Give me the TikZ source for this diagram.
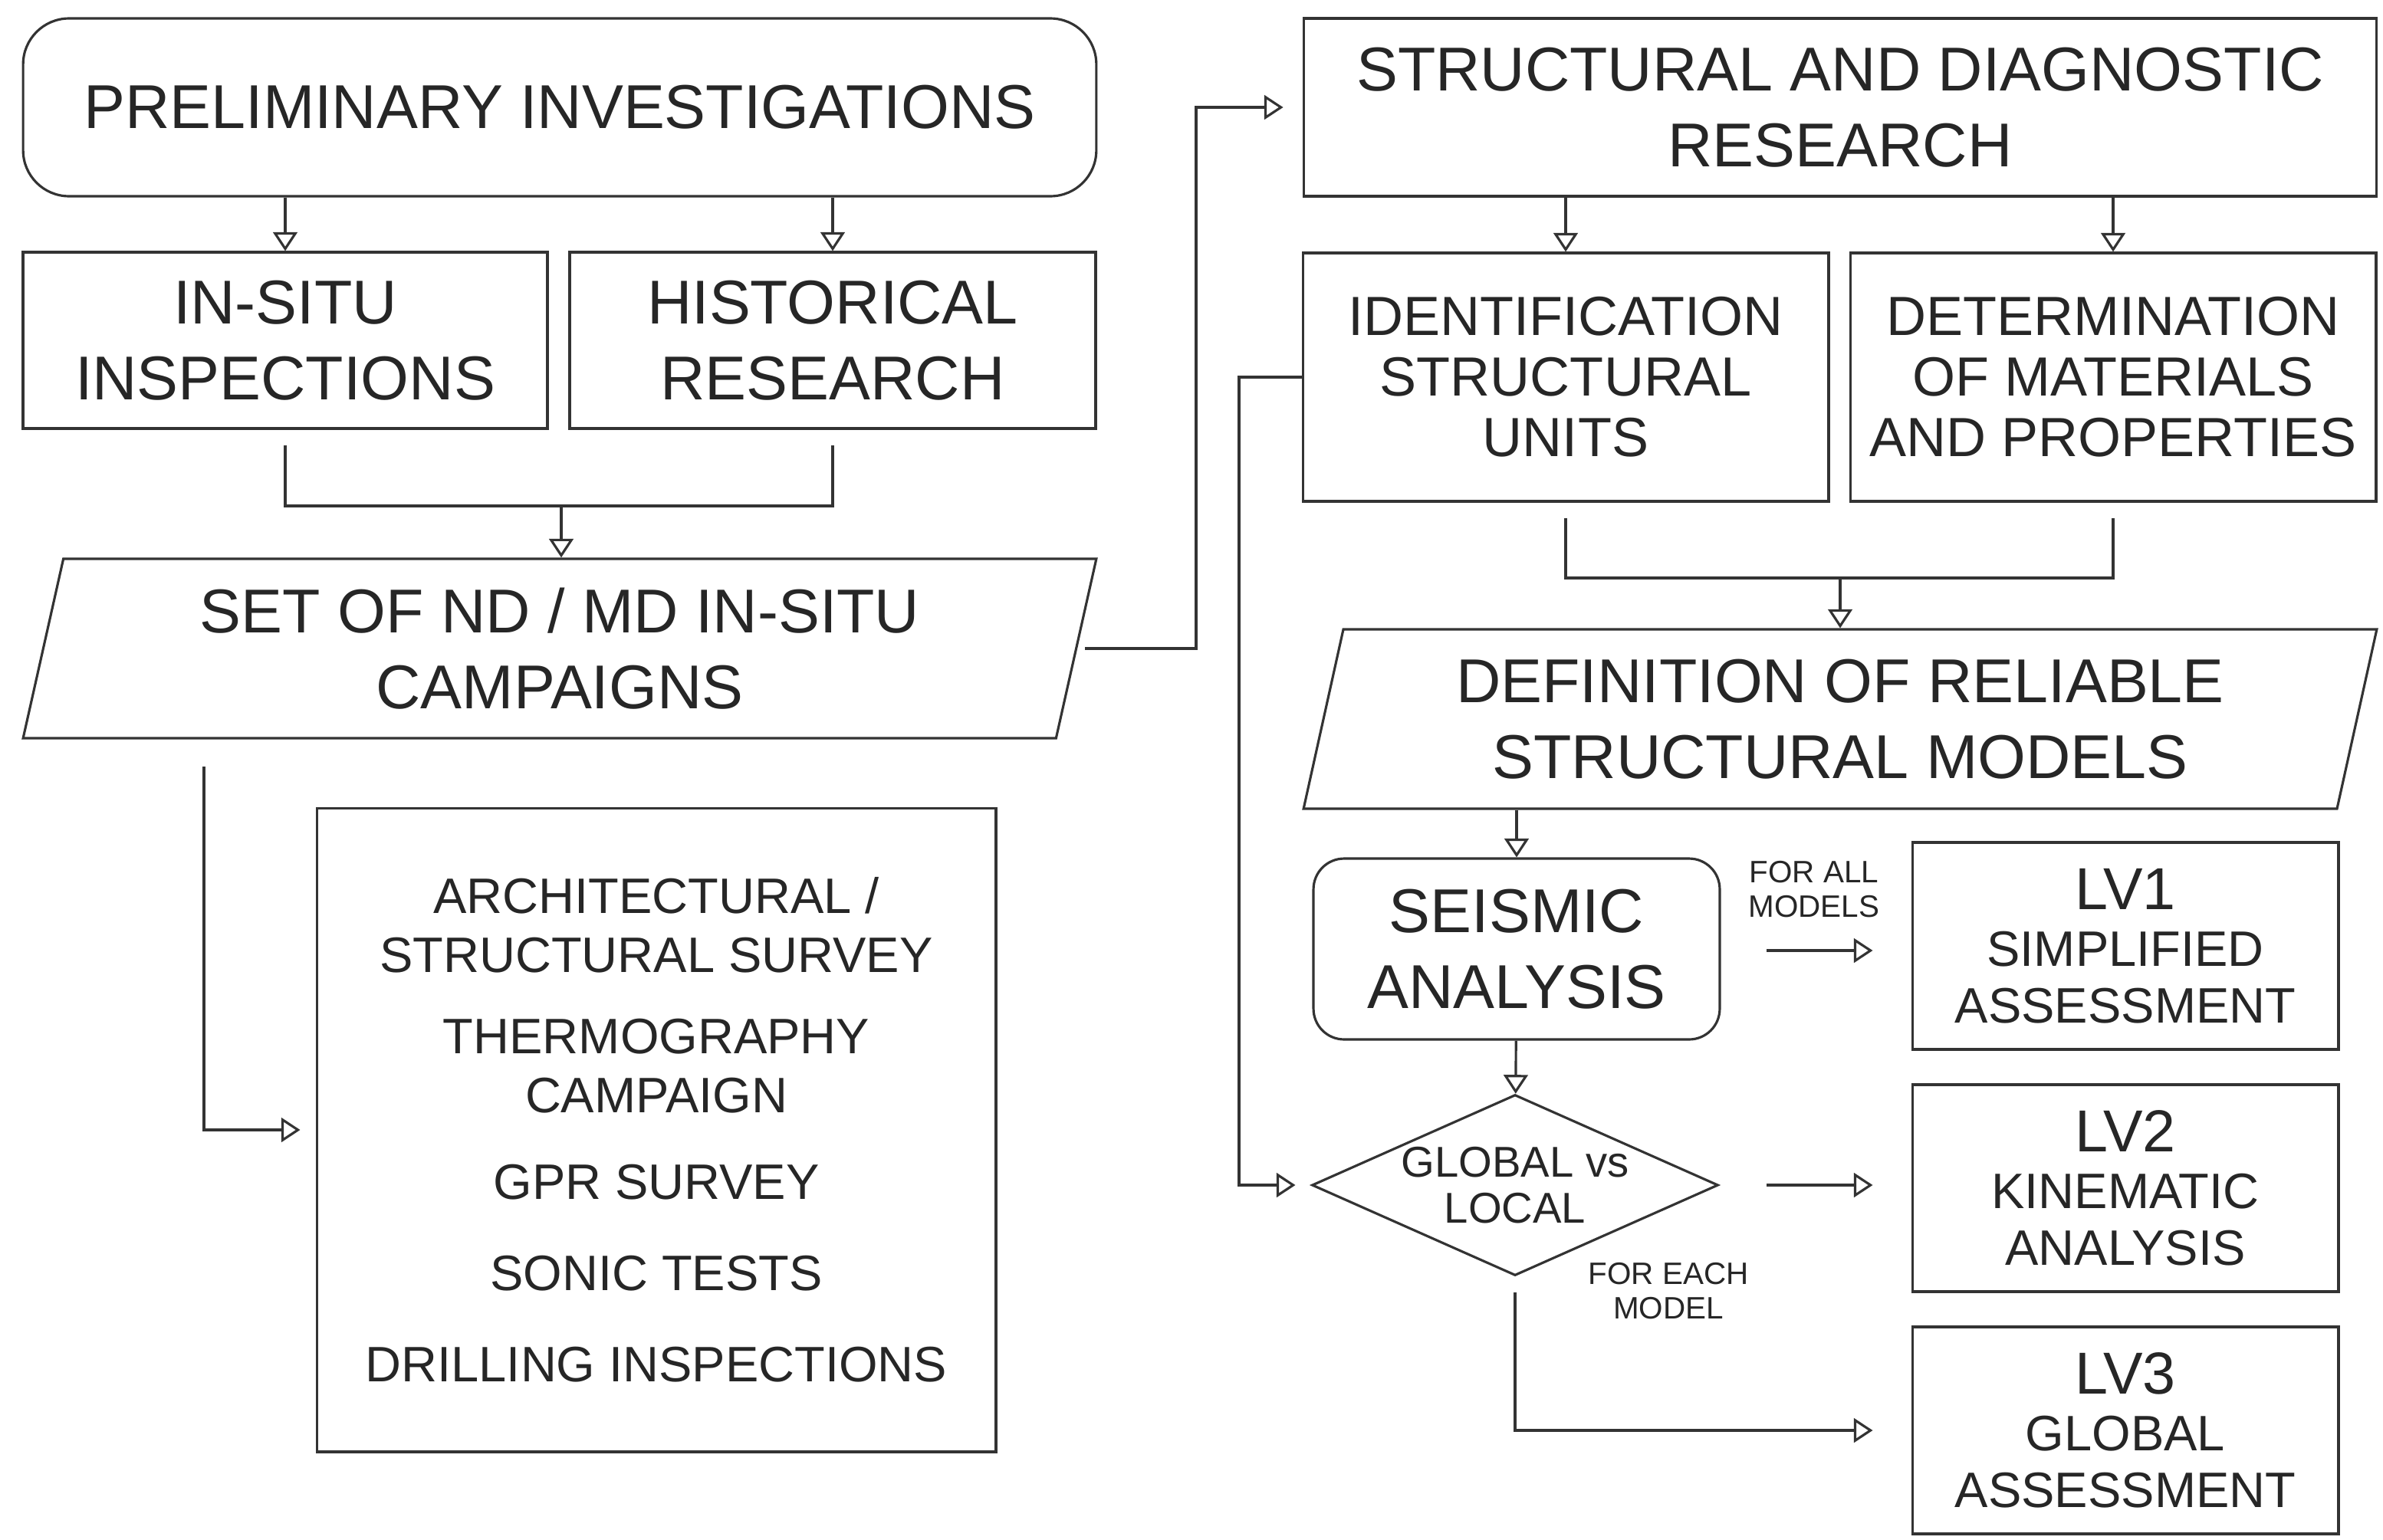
\documentclass[tikz,border=0pt]{standalone}
\usepackage{fontspec}
\setmainfont{Liberation Sans}
\usetikzlibrary{positioning, shapes.geometric, arrows.meta}

\begin{document}
\begin{tikzpicture}[
        x=0.02cm, y=-0.02cm,
        every node/.style={text=black!85, align=center, inner sep=2pt},
        bigfont/.style={font=\fontsize{23}{28}\selectfont},
        box/.style={draw=black!80, line width=0.9pt, bigfont},
        roundbox/.style={box, rounded corners=0.6cm},
        slantbox/.style={box, trapezium, trapezium left angle=73, trapezium right angle=107,
            trapezium stretches body, minimum height=2.34cm},
        lvbox/.style={box, minimum width=5.56cm, minimum height=2.7cm, font=\fontsize{18.5}{21}\selectfont},
        note/.style={font=\fontsize{11.5}{13}\selectfont},
        line/.style={draw=black!80, line width=0.9pt},
        arrow/.style={line, -{Triangle[open, length=7pt, width=9pt]}}
    ]
    \useasboundingbox (0,0) rectangle (1554,1004);

    % Left column
    \node[roundbox, minimum width=14cm, minimum height=2.32cm] (prelim) at (365,70) {PRELIMINARY INVESTIGATIONS};
    \node[box, minimum width=6.84cm, minimum height=2.3cm] (insitu) at (186,222) {IN-SITU\\INSPECTIONS};
    \node[box, minimum width=6.86cm, minimum height=2.3cm] (hist) at (543,222) {HISTORICAL\\RESEARCH};
    \node[slantbox, minimum width=14cm] (set) at (365,423) {SET OF ND / MD IN-SITU\\CAMPAIGNS};
    \node[box, minimum width=8.86cm, minimum height=8.4cm, font=\fontsize{18.5}{22}\selectfont] (list) at (428,737)
        {ARCHITECTURAL /\\STRUCTURAL SURVEY\\[8pt]THERMOGRAPHY\\CAMPAIGN\\[10pt]GPR SURVEY\\[12pt]SONIC TESTS\\[12pt]DRILLING INSPECTIONS};

    % Right column
    \node[box, minimum width=14cm, minimum height=2.32cm] (struct) at (1200,70) {STRUCTURAL AND DIAGNOSTIC\\RESEARCH};
    \node[box, minimum width=6.86cm, minimum height=3.24cm, font=\fontsize{20.5}{22.5}\selectfont] (ident) at (1021,246) {IDENTIFICATION\\STRUCTURAL\\UNITS};
    \node[box, minimum width=6.86cm, minimum height=3.24cm, font=\fontsize{20.5}{22.5}\selectfont] (determ) at (1378,246) {DETERMINATION\\OF MATERIALS\\AND PROPERTIES};
    \node[slantbox, minimum width=14cm] (defin) at (1200,469) {DEFINITION OF RELIABLE\\STRUCTURAL MODELS};
    \node[roundbox, minimum width=5.3cm, minimum height=2.36cm, rounded corners=0.4cm] (seismic) at (989,619) {SEISMIC\\ANALYSIS};
    \node[box, diamond, aspect=2.2, inner sep=0pt, minimum width=5.3cm, minimum height=2.36cm,
          font=\fontsize{16}{17}\selectfont] (choice) at (988,773) {GLOBAL vs\\LOCAL};
    \node[lvbox] (lv1) at (1386,617) {{\fontsize{22}{24}\selectfont LV1}\\SIMPLIFIED\\ASSESSMENT};
    \node[lvbox] (lv2) at (1386,775) {{\fontsize{22}{24}\selectfont LV2}\\KINEMATIC\\ANALYSIS};
    \node[lvbox] (lv3) at (1386,933) {{\fontsize{22}{24}\selectfont LV3}\\GLOBAL\\ASSESSMENT};
    \node[note] (allnote) at (1183,580) {FOR ALL\\MODELS};
    \node[note] (eachnote) at (1088,842) {FOR EACH\\MODEL};

    % Free ends
    \coordinate (joinA) at (366,330);
    \coordinate (joinB) at (1200,377);
    \coordinate (setout) at (780,423);
    \coordinate (setdown) at (133,500);
    \coordinate (identout) at (808,246);
    \coordinate (lv1in) at (1152,620);
    \coordinate (lv2in) at (1152,773);
    \coordinate (lv3in) at (988,933);

    % Arrows
    \draw[arrow] (prelim.south -| insitu) -- (insitu);
    \draw[arrow] (prelim.south -| hist) -- (hist);
    \draw[line] ([yshift=-0.2cm]insitu.south) |- (joinA) -| ([yshift=-0.2cm]hist.south);
    \draw[arrow] (joinA) -- (set.north -| joinA);
    \draw[arrow] ([xshift=0.1cm]set.east) -| (setout) |- ([xshift=-0.25cm]struct.west);
    \draw[arrow] (setdown) |- ([xshift=-0.2cm]list.west);
    \draw[arrow] (struct.south -| ident) -- (ident);
    \draw[arrow] (struct.south -| determ) -- (determ);
    \draw[line] ([yshift=-0.2cm]ident.south) |- (joinB) -| ([yshift=-0.2cm]determ.south);
    \draw[arrow] (joinB) -- (defin.north -| joinB);
    \draw[arrow] (defin.south -| seismic) -- (seismic);
    \draw[arrow] (seismic) -- (choice);
    \draw[arrow] (ident.west) -- (identout) |- ([xshift=-0.2cm]choice.west);
    \draw[arrow] (lv1in) -- ([xshift=-0.5cm]lv1.west |- lv1in);
    \draw[arrow] (lv2in) -- ([xshift=-0.5cm]lv2.west |- lv2in);
    \draw[arrow] ([yshift=-0.2cm]choice.south) -- (lv3in) -- ([xshift=-0.5cm]lv3.west |- lv3in);
\end{tikzpicture}
\end{document}
